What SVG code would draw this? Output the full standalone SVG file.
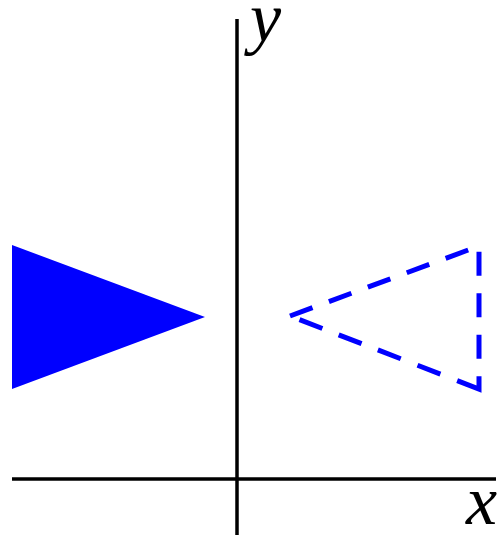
<svg xmlns="http://www.w3.org/2000/svg" width="498" height="537" viewBox="0 0 498 537">
<style>
.axis{stroke:#000;stroke-width:3.5;fill:none}
.lbl{font-family:"Liberation Serif","Times New Roman",serif;font-style:italic;font-size:70px;fill:#000}
.dash{stroke:#0000ff;stroke-width:5;fill:none;stroke-linejoin:miter}
</style>
<rect width="498" height="537" fill="#fff"/>
<g id="axes">
<line class="axis" x1="237" y1="19" x2="237" y2="535"/>
<line class="axis" x1="12" y1="479" x2="496" y2="479"/>
</g>
<g id="label-y"><text class="lbl" x="250" y="41">y</text></g>
<g id="label-x"><text class="lbl" x="466" y="524">x</text></g>
<g id="filled-triangle"><polygon points="12,245 12,389 205,317" fill="#0000ff"/></g>
<g id="dashed-triangle">
<path class="dash" d="M290,316 L479,246" stroke-dasharray="24 17.5"/>
<path class="dash" d="M479,246 L479,389 L290,316" stroke-dasharray="0 5.7 24 17.5 24 17.5 24 17.5 36.2 18 24.5 18 24.5 17.5 24.5 17.5 24.5 40"/>
</g>
</svg>
